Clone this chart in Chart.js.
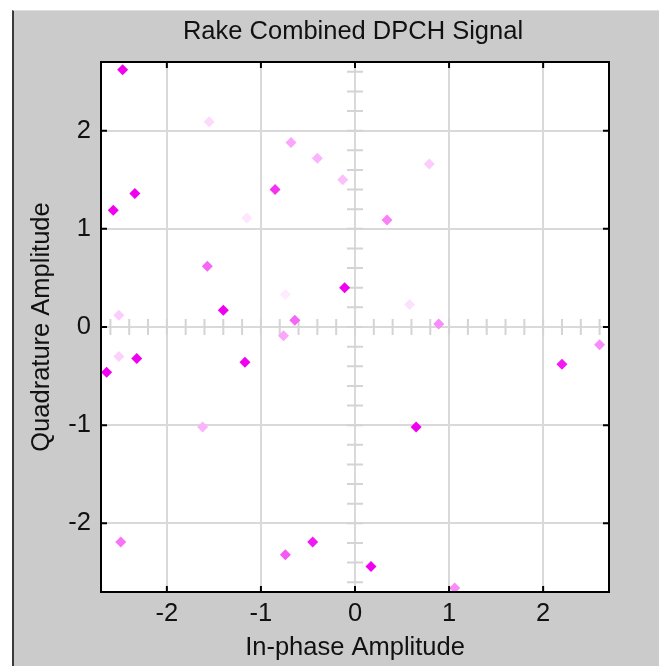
<!DOCTYPE html>
<html>
<head>
<meta charset="utf-8">
<title>Rake Combined DPCH Signal</title>
<script src="https://cdn.jsdelivr.net/npm/chart.js@4/dist/chart.umd.min.js"></script>
<style>
    html, body { margin: 0; padding: 0; background: #fff; }
    #panel {
        position: absolute; left: 12px; top: 10px; width: 645px; height: 655px;
        background: #cbcbcb; border-left: 2px solid #3a3a3a; border-top: 1px solid #dedede;
    }
    #wrap { position: absolute; left: 0; top: 0; width: 659px; height: 666px; }
</style>
</head>
<body>
<div id="panel"></div>
<div id="wrap"><canvas id="chart-rake" width="659" height="666"></canvas></div>
<script>
// received symbols (in-phase / quadrature)
const inPhase = [-2.47, -1.55, -2.57, -2.34, -0.85, -0.68, -0.40, -1.15, -1.57, -1.40, -2.51,
    -0.74, -0.64, -0.76, -0.13, 0.79, 0.34, -0.11, 0.58, 0.89, -2.64, -2.51, -2.32, -1.17,
    -1.62, -2.49, -0.74, -0.45, 2.60, 2.20, 0.65, 0.17, 1.06];
const quadrature = [2.62, 2.09, 1.19, 1.36, 1.40, 1.88, 1.72, 1.11, 0.62, 0.17, 0.12,
    0.33, 0.07, -0.09, 1.50, 1.66, 1.09, 0.40, 0.23, 0.03, -0.46, -0.30, -0.32, -0.36,
    -1.02, -2.19, -2.32, -2.19, -0.18, -0.38, -1.02, -2.44, -2.66];
// how fresh each symbol is (1 = newest, fades toward 0)
const freshness = [1, 0.15, 1, 1, 0.8, 0.35, 0.3, 0.1, 0.6, 1, 0.2,
    0.08, 0.6, 0.35, 0.25, 0.2, 0.5, 1, 0.12, 0.45, 1, 0.18, 1, 1,
    0.3, 0.55, 0.65, 0.9, 0.45, 0.9, 1, 1, 0.45];
const xTicks = [-2, -1, 0, 1, 2];
const yTicks = [-2, -1, 0, 1, 2];
const axisMin = -2.7;
const axisMax = 2.7;

const FONT = "'Liberation Sans', Arial, sans-serif";
const TEXT = '#111';

function fadeColor(f) {
    const r = Math.round(255 - 15 * f);
    const g = Math.round(255 * (1 - f));
    return `rgb(${r},${g},${r})`;
}

const axesFrame = {
    id: 'axesFrame',
    beforeDraw(chart) {
        const { ctx, chartArea: a } = chart;
        ctx.save();
        ctx.fillStyle = '#fff';
        ctx.fillRect(a.left, a.top, a.right - a.left, a.bottom - a.top);
        ctx.restore();
    },
    beforeDatasetsDraw(chart) {
        // scatterplot crosshair with minor ticks every 0.2
        const { ctx, scales: { x, y } } = chart;
        const x0 = x.getPixelForValue(0);
        const y0 = y.getPixelForValue(0);
        ctx.save();
        ctx.strokeStyle = '#d4d4d4';
        ctx.lineWidth = 2;
        ctx.beginPath();
        for (let k = -13; k <= 13; k++) {
            const px = x.getPixelForValue(k * 0.2);
            const py = y.getPixelForValue(k * 0.2);
            ctx.moveTo(px, y0 - 8); ctx.lineTo(px, y0 + 8);
            ctx.moveTo(x0 - 8, py); ctx.lineTo(x0 + 8, py);
        }
        ctx.stroke();
        ctx.restore();
    },
    afterDraw(chart) {
        const { ctx, chartArea: a, scales: { x, y } } = chart;
        ctx.save();
        ctx.strokeStyle = '#000';
        ctx.lineWidth = 2;
        ctx.strokeRect(a.left, a.top, a.right - a.left, a.bottom - a.top);
        ctx.beginPath();
        xTicks.forEach(v => {
            const px = x.getPixelForValue(v);
            ctx.moveTo(px, a.top); ctx.lineTo(px, a.top + 6);
            ctx.moveTo(px, a.bottom); ctx.lineTo(px, a.bottom - 6);
        });
        yTicks.forEach(v => {
            const py = y.getPixelForValue(v);
            ctx.moveTo(a.left, py); ctx.lineTo(a.left + 6, py);
            ctx.moveTo(a.right, py); ctx.lineTo(a.right - 6, py);
        });
        ctx.stroke();

        ctx.fillStyle = TEXT;
        ctx.font = `25.5px ${FONT}`;
        ctx.textAlign = 'center';
        ctx.textBaseline = 'middle';
        ctx.fillText('Rake Combined DPCH Signal', (a.left + a.right) / 2 - 2, 32);
        ctx.restore();
    }
};

const ctx = document.getElementById('chart-rake').getContext('2d');
new Chart(ctx, {
    type: 'scatter',
    data: {
        datasets: [{
            label: 'Rake Combined DPCH Signal',
            data: inPhase.map((v, i) => ({ x: v, y: quadrature[i] })),
            pointStyle: 'rectRot',
            pointRadius: 5.5,
            pointBorderWidth: 0,
            pointBackgroundColor: freshness.map(fadeColor),
            pointBorderColor: freshness.map(fadeColor)
        }]
    },
    options: {
        responsive: false,
        animation: false,
        layout: { padding: { top: 62, right: 50, bottom: 0, left: 0 } },
        plugins: {
            legend: { display: false },
            title: { display: false },
            tooltip: { enabled: false }
        },
        scales: {
            x: {
                type: 'linear',
                min: axisMin,
                max: axisMax,
                afterBuildTicks: s => { s.ticks = xTicks.map(v => ({ value: v })); },
                afterFit: s => { s.height = 74; },
                grid: { color: '#d9d9d9', lineWidth: 2, drawTicks: false },
                border: { display: true, color: '#000', width: 2 },
                ticks: { color: TEXT, font: { family: FONT, size: 25.5 }, padding: 7, maxRotation: 0 },
                title: {
                    display: true, text: 'In-phase Amplitude', color: TEXT,
                    font: { family: FONT, size: 25.5 }, padding: { top: 0, bottom: 3 }
                }
            },
            y: {
                type: 'linear',
                min: axisMin,
                max: axisMax,
                afterBuildTicks: s => { s.ticks = yTicks.map(v => ({ value: v })); },
                afterFit: s => { s.width = 101; },
                grid: { color: '#d9d9d9', lineWidth: 2, drawTicks: false },
                border: { display: true, color: '#000', width: 2 },
                ticks: { color: TEXT, font: { family: FONT, size: 25.5 }, padding: 10 },
                title: {
                    display: true, text: 'Quadrature Amplitude', color: TEXT,
                    font: { family: FONT, size: 25.5 }, padding: { top: 27, bottom: 0 }
                }
            }
        }
    },
    plugins: [axesFrame]
});
</script>
</body>
</html>
